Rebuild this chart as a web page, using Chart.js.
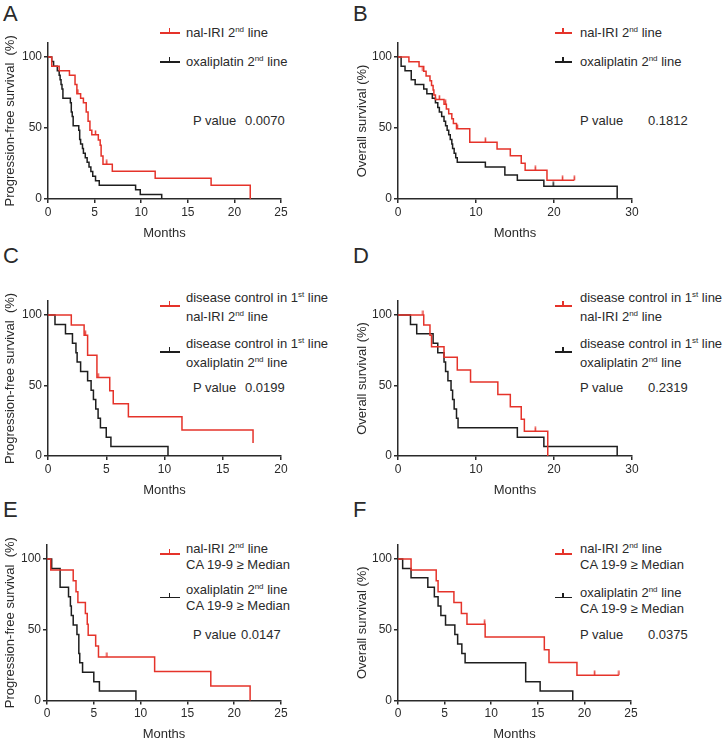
<!DOCTYPE html>
<html>
<head>
<meta charset="utf-8">
<script src="https://cdn.jsdelivr.net/npm/chart.js@4.4.0/dist/chart.umd.min.js"></script>
<style>
body { margin: 0; background: #fff; }
#page { position: relative; width: 724px; height: 742px; overflow: hidden; font-family: "Liberation Sans", Arial, sans-serif; color: #2a2a2a; }
#page canvas { position: absolute; }
.lbl { position: absolute; font-size: 22px; line-height: 22px; }
.t { position: absolute; font-size: 13px; line-height: 16px; white-space: nowrap; }
.t sup { font-size: 8px; line-height: 0; vertical-align: 5px; }
.sw { position: absolute; height: 1.6px; }
.sw i { position: absolute; top: -4px; width: 1.6px; height: 4px; }
.red, .red i { background: #e5332a; }
.blk, .blk i { background: #1e1e1e; }
</style>
</head>
<body>
<div id="page">
  <div class="lbl" style="left:3px;top:3px">A</div>
  <div class="lbl" style="left:353px;top:3px">B</div>
  <div class="lbl" style="left:3px;top:245px">C</div>
  <div class="lbl" style="left:353px;top:245px">D</div>
  <div class="lbl" style="left:3px;top:499px">E</div>
  <div class="lbl" style="left:353px;top:499px">F</div>

  <!-- A -->
  <div class="sw red" style="left:160px;top:32.2px;width:20px"><i style="left:8.5px"></i></div>
  <div class="t" style="left:186px;top:25px">nal-IRI 2<sup>nd</sup> line</div>
  <div class="sw blk" style="left:160px;top:61.2px;width:20px"><i style="left:8.5px"></i></div>
  <div class="t" style="left:186px;top:54px">oxaliplatin 2<sup>nd</sup> line</div>
  <div class="t" style="left:193px;top:113px">P value</div>
  <div class="t" style="left:245px;top:113px">0.0070</div>

  <!-- B -->
  <div class="sw red" style="left:555px;top:32.2px;width:17px"><i style="left:7px"></i></div>
  <div class="t" style="left:580px;top:25px">nal-IRI 2<sup>nd</sup> line</div>
  <div class="sw blk" style="left:555px;top:61.2px;width:17px"><i style="left:7px"></i></div>
  <div class="t" style="left:580px;top:54px">oxaliplatin 2<sup>nd</sup> line</div>
  <div class="t" style="left:580px;top:113px">P value</div>
  <div class="t" style="left:648px;top:113px">0.1812</div>

  <!-- C -->
  <div class="sw red" style="left:160px;top:305px;width:20px"><i style="left:8.5px"></i></div>
  <div class="t" style="left:186px;top:290px">disease control in 1<sup>st</sup> line</div>
  <div class="t" style="left:186px;top:308.5px">nal-IRI 2<sup>nd</sup> line</div>
  <div class="sw blk" style="left:160px;top:351px;width:20px"><i style="left:8.5px"></i></div>
  <div class="t" style="left:186px;top:336px">disease control in 1<sup>st</sup> line</div>
  <div class="t" style="left:186px;top:354.5px">oxaliplatin 2<sup>nd</sup> line</div>
  <div class="t" style="left:193px;top:380px">P value</div>
  <div class="t" style="left:245px;top:380px">0.0199</div>

  <!-- D -->
  <div class="sw red" style="left:555px;top:305px;width:17px"><i style="left:7px"></i></div>
  <div class="t" style="left:580px;top:290px">disease control in 1<sup>st</sup> line</div>
  <div class="t" style="left:580px;top:308.5px">nal-IRI 2<sup>nd</sup> line</div>
  <div class="sw blk" style="left:555px;top:351px;width:17px"><i style="left:7px"></i></div>
  <div class="t" style="left:580px;top:336px">disease control in 1<sup>st</sup> line</div>
  <div class="t" style="left:580px;top:354.5px">oxaliplatin 2<sup>nd</sup> line</div>
  <div class="t" style="left:580px;top:380px">P value</div>
  <div class="t" style="left:648px;top:380px">0.2319</div>

  <!-- E -->
  <div class="sw red" style="left:160px;top:553.2px;width:20px"><i style="left:8.5px"></i></div>
  <div class="t" style="left:186px;top:541px">nal-IRI 2<sup>nd</sup> line</div>
  <div class="t" style="left:186px;top:557px">CA 19-9 ≥ Median</div>
  <div class="sw blk" style="left:160px;top:596.5px;width:20px"><i style="left:8.5px"></i></div>
  <div class="t" style="left:186px;top:582px">oxaliplatin 2<sup>nd</sup> line</div>
  <div class="t" style="left:186px;top:598px">CA 19-9 ≥ Median</div>
  <div class="t" style="left:193px;top:627px">P value</div>
  <div class="t" style="left:241px;top:627px">0.0147</div>

  <!-- F -->
  <div class="sw red" style="left:555px;top:553.2px;width:17px"><i style="left:7px"></i></div>
  <div class="t" style="left:580px;top:541px">nal-IRI 2<sup>nd</sup> line</div>
  <div class="t" style="left:580px;top:557px">CA 19-9 ≥ Median</div>
  <div class="sw blk" style="left:555px;top:596.5px;width:17px"><i style="left:7px"></i></div>
  <div class="t" style="left:580px;top:585px">oxaliplatin 2<sup>nd</sup> line</div>
  <div class="t" style="left:580px;top:601px">CA 19-9 ≥ Median</div>
  <div class="t" style="left:580px;top:627px">P value</div>
  <div class="t" style="left:648px;top:627px">0.0375</div>
</div>

<script>
const RED = '#e5332a';
const BLACK = '#1e1e1e';
const TXT = '#2a2a2a';
const FONT = '"Liberation Sans", Arial, sans-serif';

// Kaplan-Meier steps as [months, survival %] – value takes effect at that month
const aRed = [[0,100],[0.4,93.5],[1.2,90.3],[2.3,87.1],[2.9,80.6],[3.1,74.2],[3.5,71],[3.8,67.7],[4.1,61.3],[4.3,54.8],[4.5,48.4],[4.7,45.2],[5.4,41.5],[5.6,37.8],[5.7,30.2],[5.9,24.4],[6.9,19.5],[11.5,14.6],[17.5,9.7],[21.7,0]];
const aBlack = [[0,100],[0.4,96.8],[0.6,93.5],[1.0,90.3],[1.2,87.1],[1.3,83.9],[1.4,80.6],[1.5,77.4],[1.6,71],[2.4,67.7],[2.5,61.3],[2.6,58.1],[2.7,51.6],[3.3,48.4],[3.4,41.9],[3.5,38.7],[3.7,35.5],[3.8,32.3],[4.0,29],[4.2,25.8],[4.4,22.6],[4.6,19.4],[4.8,16.1],[5.1,12.9],[5.5,9.7],[9.4,6.5],[9.9,3.2],[12.2,0]];
const aRedCens = [[3.2,74.2],[5.1,45.2],[6.3,24.4]];
const aBlackCens = [];

const bRed = [[0,100],[1.4,96.7],[2.7,93.3],[3.3,90],[3.6,86.7],[4.1,83.3],[4.3,80],[4.5,76.7],[4.6,73.3],[4.8,70],[5.9,66.7],[6.2,63.3],[6.5,60],[6.9,56.6],[7.1,53.2],[7.5,49.4],[9.2,40],[12.7,35.2],[14.4,30.4],[15.8,25.1],[16.3,20.2],[19.1,13.2],[22.6,13.2]];
const bBlack = [[0,100],[0.4,93.5],[0.9,90.3],[1.7,83.9],[2.2,80.6],[3.3,77.4],[3.7,74.2],[4.4,71],[4.8,67.7],[5.1,64.5],[5.3,61.3],[5.6,58.1],[5.9,54.8],[6.1,51.6],[6.3,48.4],[6.5,45.2],[6.7,41.9],[6.9,38.7],[7.0,35.5],[7.2,32.3],[7.4,29],[7.6,25.8],[11.2,22.6],[13.7,16.9],[15.3,13.2],[18.7,9],[28.1,0]];
const bRedCens = [[3.2,90],[5.3,70],[6.1,66.7],[7.6,49.4],[11.2,40],[17.6,20.2],[21.1,13.2],[22.6,13.2]];
const bBlackCens = [[19.9,9]];

const cRed = [[0,100],[2.0,92.9],[3.1,85.7],[3.4,71.4],[4.2,55.6],[5.3,46.3],[5.6,37],[6.9,27.8],[11.5,18.5],[17.6,9.3]];
const cBlack = [[0,100],[0.6,93.3],[1.5,86.7],[2.1,80],[2.4,73.3],[2.5,66.7],[2.8,60],[3.4,53.3],[3.7,46.7],[3.9,40],[4.1,33.3],[4.3,26.7],[4.5,20],[5.0,13.3],[5.4,6.7],[10.3,0]];
const cRedCens = [[3.2,85.7],[4.3,55.6]];
const cBlackCens = [];

const dRed = [[0,100],[3.3,92.9],[4.1,85.7],[4.3,77.4],[5.9,70],[7.6,61],[9.3,52.5],[12.8,43.6],[14.4,35],[15.8,26],[16.2,17.5],[19.2,0]];
const dBlack = [[0,100],[1.6,93.3],[2.4,86.7],[4.5,80],[5.1,73.3],[5.9,66.7],[6.1,60],[6.4,53.3],[6.8,46.7],[7.0,40],[7.2,33.3],[7.5,26.7],[7.7,20],[15.3,13.3],[18.7,6.7],[28.1,0]];
const dRedCens = [[3.2,100],[17.6,17.5]];
const dBlackCens = [];

const eRed = [[0,100],[0.4,92.3],[2.8,84.6],[3.1,76.9],[3.3,69.2],[4.1,61.5],[4.3,53.8],[4.4,46.2],[5.2,38.5],[5.5,30.8],[11.5,20.5],[17.5,10.3],[21.7,0]];
const eBlack = [[0,100],[0.5,93.3],[1.4,80],[2.3,73.3],[2.5,66.7],[2.6,60],[2.8,53.3],[3.2,46.7],[3.4,33.3],[3.5,26.7],[3.8,20],[5.0,13.3],[5.6,6.7],[9.5,0]];
const eRedCens = [[6.4,30.8]];
const eBlackCens = [];

const fRed = [[0,100],[1.4,92.3],[4.1,84.6],[4.3,76.9],[6.0,69.2],[6.8,61.5],[7.4,53.8],[9.35,44.9],[15.7,35.9],[16.2,26.9],[19.2,17.9],[23.7,17.9]];
const fBlack = [[0,100],[0.5,93.3],[1.4,86.7],[3.2,80],[3.9,73.3],[4.3,66.7],[4.6,60],[5.1,53.3],[6.1,46.7],[6.4,40],[6.85,33.3],[7.2,26.7],[13.7,13.3],[15.25,6.7],[18.75,0]];
const fRedCens = [[9.3,53.8],[21.1,17.9],[23.7,17.9]];
const fBlackCens = [];

const yTicks = [0, 50, 100];
const pfsTitle = 'Progression-free survival  (%)';
const osTitle = 'Overall survival (%)';

// small vertical censor tick, sitting on top of the curve
function tickMark(color) {
    const c = document.createElement('canvas');
    c.width = 3;
    c.height = 10;
    const g = c.getContext('2d');
    g.strokeStyle = color;
    g.lineWidth = 1.5;
    g.beginPath();
    g.moveTo(1.5, 0.5);
    g.lineTo(1.5, 5);
    g.stroke();
    return c;
}

const pts = arr => arr.map(p => ({ x: p[0], y: p[1] }));

function kmChart(p, red, black, redCens, blackCens) {
    const pxPerPct = (p.y0 - p.y100) / 100;
    const plotTop = p.y0 - 110 * pxPerPct;
    const left = Math.round(p.titleX - 7.8);
    const top = Math.floor(plotTop - 10);
    const width = Math.round(p.right + 14 - left);
    const height = Math.round(p.y0 + 41.8 - top);
    const yW = p.axisX - left;
    const xH = height - (p.y0 - top);

    const cv = document.createElement('canvas');
    cv.width = width;
    cv.height = height;
    cv.style.left = left + 'px';
    cv.style.top = top + 'px';
    cv.style.width = width + 'px';
    cv.style.height = height + 'px';
    document.getElementById('page').appendChild(cv);

    const lineDs = (data, color) => ({
        data: pts(data), borderColor: color, borderWidth: 1.5, stepped: 'before',
        pointRadius: 0, fill: false, borderJoinStyle: 'miter', clip: false
    });
    const censDs = (data, color) => ({
        data: pts(data), showLine: false, pointStyle: tickMark(color), pointRadius: 3, clip: false
    });

    return new Chart(cv, {
        type: 'line',
        data: {
            datasets: [
                censDs(redCens, RED),
                censDs(blackCens, BLACK),
                lineDs(red, RED),
                lineDs(black, BLACK)
            ]
        },
        options: {
            responsive: false,
            animation: false,
            devicePixelRatio: 1,
            layout: { padding: { top: plotTop - top, right: width - (p.right - left), left: 0, bottom: 0 } },
            plugins: { legend: { display: false }, tooltip: { enabled: false } },
            scales: {
                x: {
                    type: 'linear', min: 0, max: p.xMax,
                    border: { color: TXT, width: 1.5 },
                    grid: { drawOnChartArea: false, drawTicks: true, tickLength: 4, color: TXT, lineWidth: 1.5 },
                    ticks: { stepSize: p.step, color: TXT, font: { family: FONT, size: 12 }, padding: 2, maxRotation: 0 },
                    title: { display: true, text: 'Months', color: TXT, font: { family: FONT, size: 13 }, padding: 0 },
                    afterFit: s => { s.height = xH; }
                },
                y: {
                    type: 'linear', min: 0, max: 110,
                    border: { color: TXT, width: 1.5 },
                    grid: { drawOnChartArea: false, drawTicks: true, tickLength: 4, color: TXT, lineWidth: 1.5 },
                    ticks: { color: TXT, font: { family: FONT, size: 12 }, padding: 2 },
                    afterBuildTicks: s => { s.ticks = yTicks.map(v => ({ value: v })); },
                    title: { display: true, text: p.yTitle, color: TXT, font: { family: FONT, size: 13 }, padding: 0 },
                    afterFit: s => { s.width = yW; }
                }
            }
        }
    });
}

kmChart({ axisX: 48, right: 281, y0: 199, y100: 57, xMax: 25, step: 5, titleX: 11, yTitle: pfsTitle }, aRed, aBlack, aRedCens, aBlackCens);
kmChart({ axisX: 398, right: 632, y0: 199, y100: 57, xMax: 30, step: 10, titleX: 363, yTitle: osTitle }, bRed, bBlack, bRedCens, bBlackCens);
kmChart({ axisX: 48, right: 281, y0: 456, y100: 315, xMax: 20, step: 5, titleX: 11, yTitle: pfsTitle }, cRed, cBlack, cRedCens, cBlackCens);
kmChart({ axisX: 398, right: 632, y0: 456, y100: 315, xMax: 30, step: 10, titleX: 363, yTitle: osTitle }, dRed, dBlack, dRedCens, dBlackCens);
kmChart({ axisX: 47, right: 281, y0: 700.5, y100: 559, xMax: 25, step: 5, titleX: 11, yTitle: pfsTitle }, eRed, eBlack, eRedCens, eBlackCens);
kmChart({ axisX: 398, right: 631, y0: 700.5, y100: 559, xMax: 25, step: 5, titleX: 363, yTitle: osTitle }, fRed, fBlack, fRedCens, fBlackCens);
</script>
</body>
</html>
